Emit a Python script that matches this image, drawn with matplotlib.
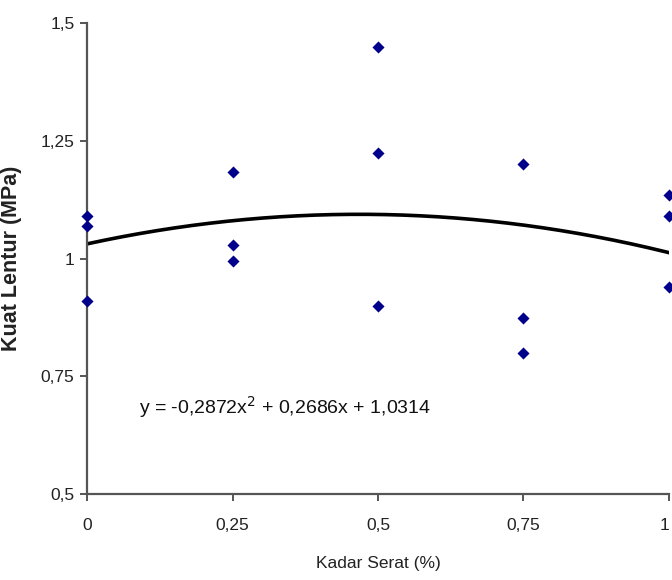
import numpy as np
import matplotlib
matplotlib.use('Agg')
import matplotlib.pyplot as plt
from matplotlib.ticker import FuncFormatter

# fibre content (%) and flexural strength (MPa)
kadar_serat = [0, 0, 0, 0.25, 0.25, 0.25, 0.5, 0.5, 0.5, 0.75, 0.75, 0.75, 1, 1, 1]
kuat_lentur = [1.09, 1.07, 0.91, 1.185, 1.03, 0.995, 1.45, 1.225, 0.9,
               1.2, 0.873, 0.80, 1.135, 1.09, 0.94]

# quadratic trend coefficients
coef = [-0.2872, 0.2686, 1.0314]

x_ticks = [0, 0.25, 0.5, 0.75, 1]
y_ticks = [0.5, 0.75, 1, 1.25, 1.5]

plt.rcParams['font.family'] = ['Liberation Sans Narrow', 'Liberation Sans', 'DejaVu Sans']

fig = plt.figure(figsize=(6.72, 5.8), dpi=100)
ax = fig.add_axes([0.1295, 0.148, 0.866, 0.812])

ax.scatter(kadar_serat, kuat_lentur, marker='D', s=38, color='#00008B', zorder=3,
           clip_on=False, linewidths=0)

xs = np.linspace(0, 1, 200)
ax.plot(xs, np.polyval(coef, xs), color='black', lw=2.6, zorder=2)

ax.set_xlim(0, 1)
ax.set_ylim(0.5, 1.5)
ax.set_xticks(x_ticks)
ax.set_yticks(y_ticks)

def koma(v, pos):
    return ('%g' % v).replace('.', ',')

ax.xaxis.set_major_formatter(FuncFormatter(koma))
ax.yaxis.set_major_formatter(FuncFormatter(koma))

for side in ['top', 'right']:
    ax.spines[side].set_visible(False)
for side in ['left', 'bottom']:
    ax.spines[side].set_color('#555555')
    ax.spines[side].set_linewidth(1.6)

ax.tick_params(axis='both', direction='out', length=5, width=1.4, color='#555555',
               labelsize=12.5, labelcolor='#222222')
ax.tick_params(axis='x', pad=12)
ax.tick_params(axis='y', pad=4)

# keep the last x label inside the figure edge
fig.canvas.draw()
ax.get_xticklabels()[-1].set_horizontalalignment('right')

ax.set_xlabel('Kadar Serat (%)', fontsize=12.5, color='#222222', labelpad=17)
ax.set_ylabel('Kuat Lentur (MPa)', fontsize=15.5, fontweight='bold', color='#222222',
              family=['Liberation Sans', 'DejaVu Sans'])
ax.yaxis.set_label_coords(-0.112, 0.5)

ax.text(0.09, 0.685, 'y = -0,2872x$^2$ + 0,2686x + 1,0314', fontsize=14,
        color='#111111', va='center', ha='left')

fig.savefig('out.png', dpi=100)
